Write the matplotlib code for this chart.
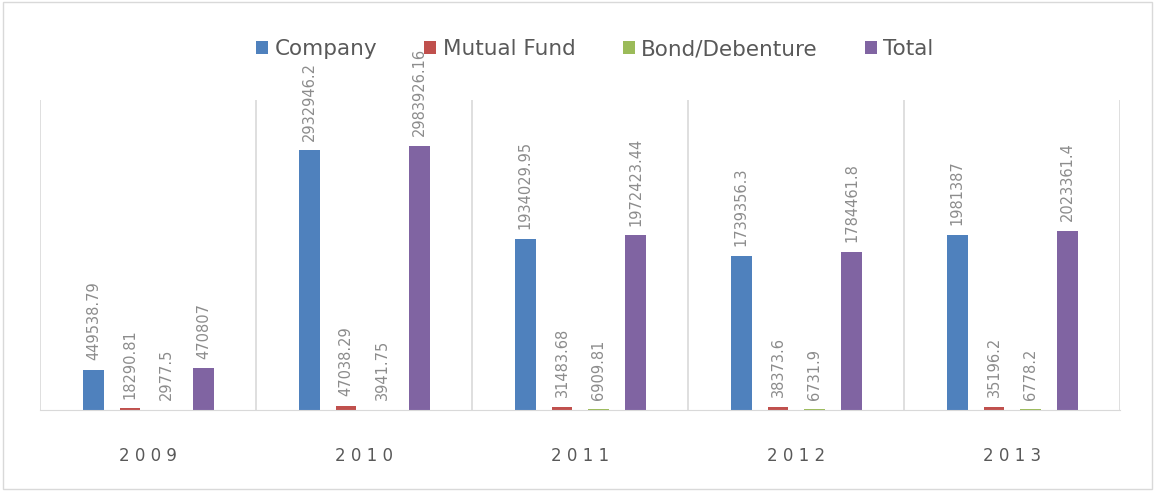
import numpy as np
import matplotlib
matplotlib.use("Agg")
import matplotlib.pyplot as plt

years = ["2009", "2010", "2011", "2012", "2013"]
series_names = ["Company", "Mutual Fund", "Bond/Debenture", "Total"]
company = [449538.79, 2932946.2, 1934029.95, 1739356.3, 1981387]
mutual_fund = [18290.81, 47038.29, 31483.68, 38373.6, 35196.2]
bond = [2977.5, 3941.75, 6909.81, 6731.9, 6778.2]
total = [470807, 2983926.16, 1972423.44, 1784461.8, 2023361.4]
label_text = [
    ["449538.79", "2932946.2", "1934029.95", "1739356.3", "1981387"],
    ["18290.81", "47038.29", "31483.68", "38373.6", "35196.2"],
    ["2977.5", "3941.75", "6909.81", "6731.9", "6778.2"],
    ["470807", "2983926.16", "1972423.44", "1784461.8", "2023361.4"],
]
colors = ["#4F81BD", "#C0504D", "#9BBB59", "#8064A2"]

plt.rcParams['font.family'] = ['DejaVu Sans']

fig = plt.figure(figsize=(11.55, 4.91), dpi=100)
ax = fig.add_axes([0.035, 0.165, 0.935, 0.631])

x = np.arange(len(years))
step = 0.17
width = 0.095
all_series = [company, mutual_fund, bond, total]
for i, (vals, name, col) in enumerate(zip(all_series, series_names, colors)):
    pos = x + (i - 1.5) * step
    ax.bar(pos, vals, width, color=col, label=name)
    for px, v, t in zip(pos, vals, label_text[i]):
        ax.annotate(t, (px, v), xytext=(0, 7), textcoords="offset points",
                    rotation=90, ha="center", va="bottom",
                    fontsize=10.5, color="#8c8c8c")

ax.set_xlim(-0.5, len(years) - 0.5)
ax.set_ylim(0, 3500000)
ax.set_xticks(x)
ax.set_xticklabels([" ".join(y) for y in years], fontsize=12, color="#595959")
ax.tick_params(axis="x", length=0, pad=27)
ax.set_yticks([])

# category separators
for b in np.arange(-0.5, len(years) + 0.5, 1.0):
    ax.axvline(b, color="#d9d9d9", lw=1.2, zorder=0)

for s in ["top", "right", "left"]:
    ax.spines[s].set_visible(False)
ax.spines["bottom"].set_color("#d9d9d9")

leg = fig.legend(loc="upper center", bbox_to_anchor=(0.515, 0.96), ncol=4,
                 frameon=False, fontsize=15.5, handlelength=0.55, handleheight=0.55,
                 handletextpad=0.3, columnspacing=2.2)
for t in leg.get_texts():
    t.set_color("#595959")

# outer border
fig.patches.append(plt.Rectangle((0.003, 0.005), 0.994, 0.99, transform=fig.transFigure,
                                 fill=False, edgecolor="#d9d9d9", lw=1))

fig.savefig("out.png", dpi=100)
